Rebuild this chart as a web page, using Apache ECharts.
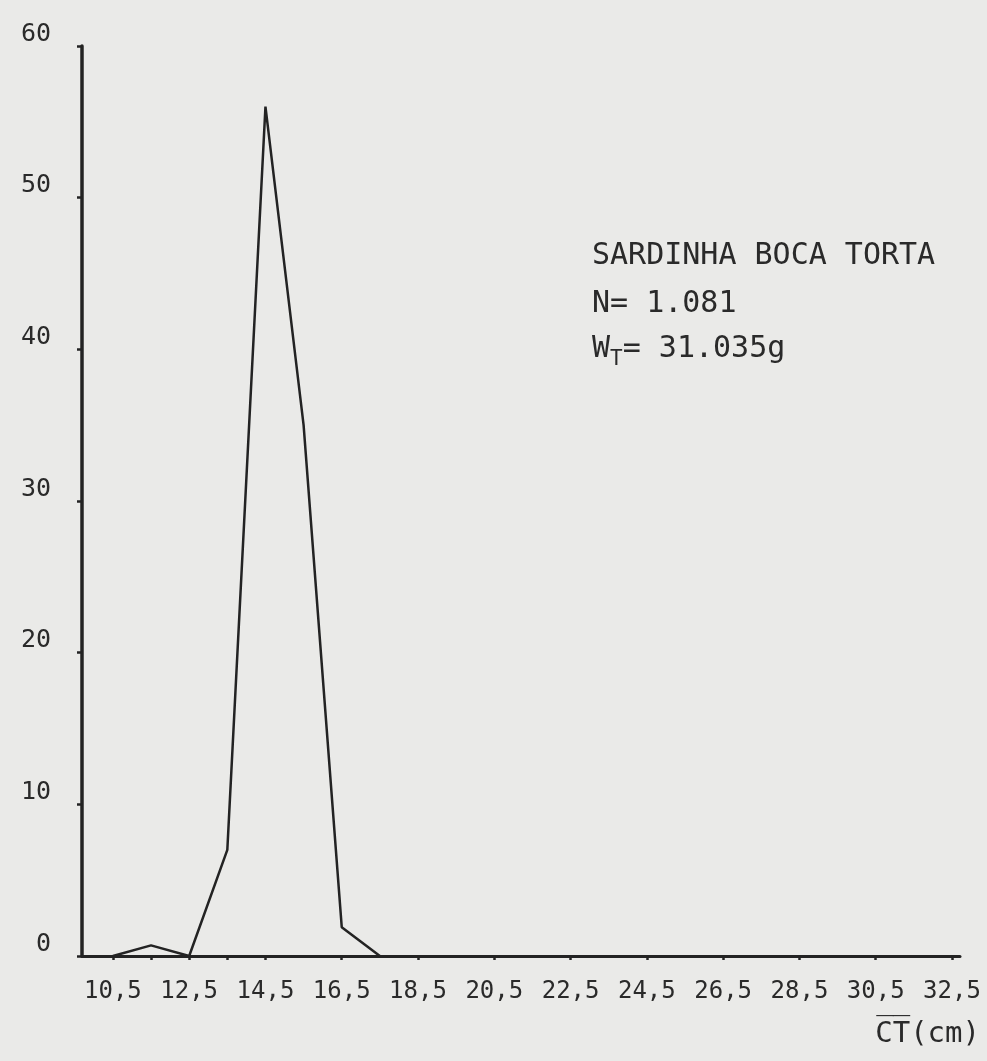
<!DOCTYPE html>
<html>
<head>
<meta charset="utf-8">
<title>Sardinha boca torta</title>
<script src="https://cdn.jsdelivr.net/npm/echarts@6/dist/echarts.min.js"></script>
<style>
    html, body {
        margin: 0;
        padding: 0;
        background: #eaeae8;
    }
    #chart {
        width: 987px;
        height: 1061px;
    }
</style>
</head>
<body>
<div id="chart"></div>
<script>
// classes de comprimento (cm) e frequência (%)
const lengthClasses = [10.5, 11.5, 12.5, 13.5, 14.5, 15.5, 16.5, 17.5]
const percentValues = [0, 0.7, 0, 7.0, 56.0, 35.0, 1.9, 0]

const xLabelValues = [10.5, 12.5, 14.5, 16.5, 18.5, 20.5, 22.5, 24.5, 26.5, 28.5, 30.5, 32.5]
const xTickValues = [10.5, 11.5, 12.5, 13.5, 14.5, 16.5, 18.5, 20.5, 22.5, 24.5, 26.5, 28.5, 30.5, 32.5]
const yTickValues = [0, 10, 20, 30, 40, 50, 60]

const speciesName = 'SARDINHA BOCA TORTA'
const sampleSize = 'N= 1.081'
const totalWeight = '31.035g'

const ink = '#232323'
const font = 'DejaVu Sans Mono'

var chart = echarts.init(document.getElementById('chart'))

chart.setOption({
    backgroundColor: '#eaeae8',
    animation: false,
    grid: {
        left: 82,
        right: 27,
        top: 46,
        bottom: 105,
        outerBoundsMode: 'none'
    },
    xAxis: {
        type: 'value',
        min: 9.69,
        max: 32.71,
        axisLine: {
            lineStyle: { color: ink, width: 3 }
        },
        axisTick: {
            customValues: xTickValues,
            length: 4,
            lineStyle: { color: ink, width: 2.5 }
        },
        axisLabel: {
            customValues: xLabelValues,
            margin: 24,
            color: '#2a2a2a',
            fontFamily: font,
            fontSize: 24,
            formatter: function (v) {
                return String(v).replace('.', ',')
            }
        },
        splitLine: { show: false }
    },
    yAxis: {
        type: 'value',
        min: 0,
        max: 60,
        axisLine: {
            show: true,
            lineStyle: { color: ink, width: 3.5 }
        },
        axisTick: {
            show: true,
            customValues: yTickValues,
            length: 5,
            lineStyle: { color: ink, width: 2.5 }
        },
        axisLabel: {
            customValues: yTickValues,
            margin: 31,
            color: '#2a2a2a',
            fontFamily: font,
            fontSize: 25,
            verticalAlign: 'bottom',
            lineHeight: 24
        },
        splitLine: { show: false }
    },
    graphic: [
        {
            type: 'text',
            left: 592,
            top: 241,
            style: {
                text: speciesName,
                fontFamily: font,
                fontSize: 30,
                fill: '#2a2a2a'
            }
        },
        {
            type: 'text',
            left: 592,
            top: 289,
            style: {
                text: sampleSize,
                fontFamily: font,
                fontSize: 30,
                fill: '#2a2a2a'
            }
        },
        {
            type: 'text',
            left: 592,
            top: 334,
            style: {
                text: '{w|W}{sub|T}{w|= ' + totalWeight + '}',
                rich: {
                    w: { fontFamily: font, fontSize: 30, fill: '#2a2a2a', verticalAlign: 'top', lineHeight: 36 },
                    sub: { fontFamily: font, fontSize: 21, fill: '#2a2a2a', verticalAlign: 'bottom', lineHeight: 36, padding: [14, 0, 0, 0] }
                }
            }
        },
        {
            type: 'text',
            right: 7,
            top: 1020,
            style: {
                text: 'C\u0305T\u0305(cm)',
                fontFamily: font,
                fontSize: 29,
                fill: '#2a2a2a'
            }
        }
    ],
    series: [
        {
            name: 'frequência',
            type: 'line',
            data: lengthClasses.map(function (x, i) {
                return [x, percentValues[i]]
            }),
            symbol: 'none',
            lineStyle: { color: ink, width: 2.5 }
        }
    ]
})
</script>
</body>
</html>
